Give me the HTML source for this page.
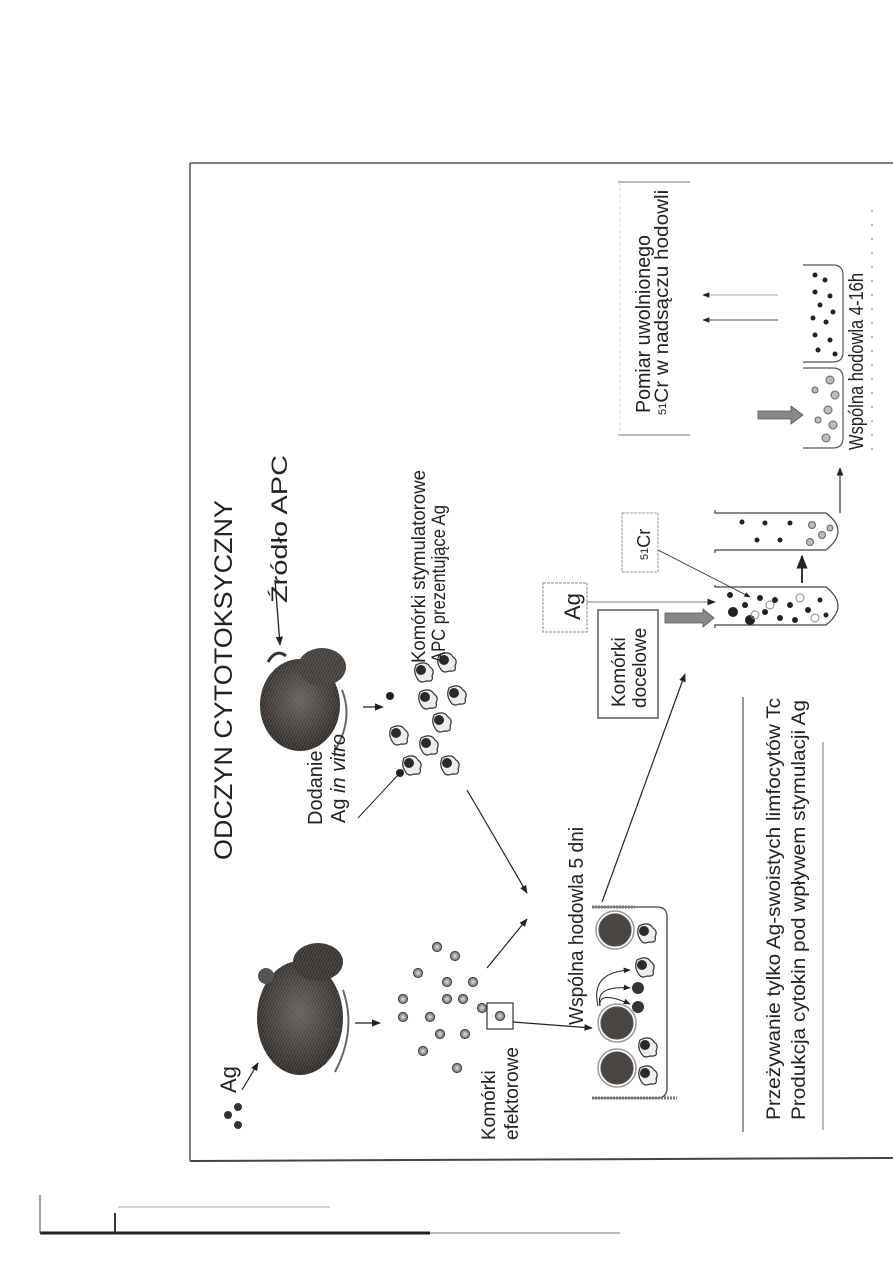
<!DOCTYPE html>
<html><head><meta charset="utf-8"><style>
html,body{margin:0;padding:0;background:#fff;}
svg{display:block;}
text{font-family:"Liberation Sans",sans-serif;fill:#222;}
</style></head><body>
<svg width="893" height="1263" viewBox="0 0 893 1263" xmlns="http://www.w3.org/2000/svg">
<defs>
<marker id="a" viewBox="0 0 10 10" refX="9" refY="5" markerWidth="7" markerHeight="7" orient="auto-start-reverse"><path d="M0,1 L10,5 L0,9 z" fill="#222"/></marker>
<radialGradient id="ms" cx="0.5" cy="0.45" r="0.6"><stop offset="0" stop-color="#6a6360"/><stop offset="0.7" stop-color="#3e3936"/><stop offset="1" stop-color="#2a2624"/></radialGradient>
<pattern id="fur" width="6" height="6" patternUnits="userSpaceOnUse"><path d="M0,6 L3,0 M3,6 L6,0" stroke="#888" stroke-width="0.6" opacity="0.5"/></pattern>
<g id="apc"><path d="M-8,-7 Q2,-12 6,-5 Q11,-2 8,4 Q10,10 2,9 Q-4,12 -7,6 Q-11,0 -8,-7z" fill="#eee" stroke="#333" stroke-width="1.2"/><circle cx="-3" cy="-2" r="5" fill="#2a2a2a"/></g>
<g id="ec"><circle r="4.5" fill="#999" stroke="#444" stroke-width="1.2"/><circle r="1.8" fill="#ccc"/></g>
</defs>

<line x1="190" y1="163" x2="893" y2="163" stroke="#555" stroke-width="1.5"/>
<line x1="190" y1="163" x2="190" y2="1161" stroke="#555" stroke-width="1.5"/>
<line x1="190" y1="1161" x2="893" y2="1158" stroke="#444" stroke-width="2"/>
<line x1="40" y1="1233" x2="430" y2="1233" stroke="#222" stroke-width="3"/>
<line x1="430" y1="1233" x2="620" y2="1233" stroke="#bbb" stroke-width="2"/>
<line x1="40" y1="1195" x2="40" y2="1233" stroke="#666" stroke-width="1.2"/>
<line x1="115" y1="1213" x2="115" y2="1233" stroke="#333" stroke-width="2"/>
<line x1="118" y1="1207" x2="330" y2="1207" stroke="#aaa" stroke-width="1"/>

<text transform="translate(232,860) rotate(-90)" font-size="25" textLength="360" lengthAdjust="spacingAndGlyphs">ODCZYN CYTOTOKSYCZNY</text>
<text transform="translate(287,603) rotate(-90)" font-size="22" textLength="148" lengthAdjust="spacingAndGlyphs">Źródło APC</text>
<line x1="275" y1="580" x2="280" y2="645" stroke="#222" stroke-width="1.3" marker-end="url(#a)"/>

<!-- mouse 2 -->
<g>
<ellipse cx="300" cy="705" rx="40" ry="46" fill="url(#ms)"/>
<ellipse cx="300" cy="705" rx="40" ry="46" fill="url(#fur)"/>
<ellipse cx="322" cy="667" rx="24" ry="19" fill="#46403c"/>
<ellipse cx="322" cy="667" rx="24" ry="19" fill="url(#fur)"/>
<path d="M268,662 q8,-14 18,-6" stroke="#333" stroke-width="3" fill="none"/>
<path d="M342,690 q12,30 -8,62" stroke="#666" stroke-width="2" fill="none"/>
</g>
<line x1="363" y1="707" x2="383" y2="707" stroke="#222" stroke-width="1.3" marker-end="url(#a)"/>

<text transform="translate(322,825) rotate(-90)" font-size="20">Dodanie</text>
<text transform="translate(345,823) rotate(-90)" font-size="20">Ag <tspan font-style="italic">in vitro</tspan></text>
<line x1="358" y1="818" x2="398" y2="775" stroke="#222" stroke-width="1"/>
<circle cx="390" cy="696" r="4" fill="#222"/>
<circle cx="400" cy="773" r="4" fill="#222"/>
<use href="#apc" x="399" y="735"/><use href="#apc" x="412" y="765"/><use href="#apc" x="424" y="672"/>
<use href="#apc" x="428" y="699"/><use href="#apc" x="429" y="745"/><use href="#apc" x="442" y="722"/>
<use href="#apc" x="447" y="662"/><use href="#apc" x="457" y="695"/><use href="#apc" x="450" y="765"/>
<text transform="translate(425,663) rotate(-90)" font-size="19" textLength="193" lengthAdjust="spacingAndGlyphs">Komórki stymulatorowe</text>
<text transform="translate(445,663) rotate(-90)" font-size="19" textLength="158" lengthAdjust="spacingAndGlyphs">APC prezentujące Ag</text>
<line x1="467" y1="790" x2="527" y2="893" stroke="#222" stroke-width="1.2" marker-end="url(#a)"/>

<!-- mouse 1 -->
<g>
<ellipse cx="300" cy="1018" rx="43" ry="57" fill="url(#ms)"/>
<ellipse cx="300" cy="1018" rx="43" ry="57" fill="url(#fur)"/>
<ellipse cx="318" cy="962" rx="25" ry="19" fill="#3a3532"/>
<ellipse cx="318" cy="962" rx="25" ry="19" fill="url(#fur)"/>
<circle cx="266" cy="976" r="8" fill="#555"/>
<path d="M343,990 q14,40 -8,82" stroke="#666" stroke-width="2" fill="none"/>
</g>
<text transform="translate(236,1093) rotate(-90)" font-size="22">Ag</text>
<circle cx="228" cy="1115" r="4" fill="#333"/><circle cx="238" cy="1107" r="4" fill="#333"/><circle cx="238" cy="1125" r="4" fill="#333"/>
<line x1="242" y1="1090" x2="258" y2="1063" stroke="#222" stroke-width="1.2" marker-end="url(#a)"/>
<line x1="355" y1="1023" x2="380" y2="1023" stroke="#222" stroke-width="1.3" marker-end="url(#a)"/>

<use href="#ec" x="403" y="999"/><use href="#ec" x="403" y="1017"/><use href="#ec" x="423" y="1051"/>
<use href="#ec" x="418" y="973"/><use href="#ec" x="437" y="947"/><use href="#ec" x="455" y="956"/>
<use href="#ec" x="430" y="1017"/><use href="#ec" x="447" y="999"/><use href="#ec" x="447" y="982"/>
<use href="#ec" x="440" y="1034"/><use href="#ec" x="463" y="999"/><use href="#ec" x="465" y="1034"/>
<use href="#ec" x="473" y="982"/><use href="#ec" x="482" y="1008"/><use href="#ec" x="457" y="1068"/>
<rect x="487" y="1003" width="26" height="26" fill="none" stroke="#333" stroke-width="1.2"/>
<use href="#ec" x="500" y="1016"/>
<text transform="translate(495,1140) rotate(-90)" font-size="19">Komórki</text>
<text transform="translate(518,1140) rotate(-90)" font-size="19">efektorowe</text>
<line x1="487" y1="968" x2="527" y2="919" stroke="#222" stroke-width="1.2" marker-end="url(#a)"/>
<line x1="513" y1="1022" x2="592" y2="1028" stroke="#222" stroke-width="1.2" marker-end="url(#a)"/>

<text transform="translate(583,1025) rotate(-90)" font-size="20" textLength="198" lengthAdjust="spacingAndGlyphs">Wspólna hodowla 5 dni</text>
<path d="M592,907 H657 Q667,907 667,917 V1088 Q667,1098 657,1098 H592" fill="none" stroke="#444" stroke-width="1.3"/>
<line x1="592" y1="907" x2="635" y2="907" stroke="#777" stroke-width="3" stroke-dasharray="2,1"/>
<line x1="592" y1="1098" x2="677" y2="1098" stroke="#777" stroke-width="3" stroke-dasharray="2,1"/>
<g stroke="#555" stroke-width="1.2" fill="#4a4442">
<circle cx="615" cy="930" r="16"/><circle cx="617" cy="1023" r="16"/><circle cx="617" cy="1068" r="16"/>
</g>
<g fill="none" stroke="#999" stroke-width="1.5"><circle cx="615" cy="930" r="19"/><circle cx="617" cy="1023" r="19"/><circle cx="617" cy="1068" r="19"/></g>
<use href="#apc" x="647" y="933"/><use href="#apc" x="645" y="967"/><use href="#apc" x="648" y="1047"/><use href="#apc" x="648" y="1075"/>
<circle cx="638" cy="988" r="6" fill="#333"/><circle cx="638" cy="1007" r="6" fill="#333"/>
<g fill="none" stroke="#222" stroke-width="1"><path d="M600,1006 Q598,990 630,1004" marker-end="url(#a)"/><path d="M600,1006 Q595,985 630,988" marker-end="url(#a)"/><path d="M598,1006 Q590,972 630,970" marker-end="url(#a)"/></g>
<line x1="602" y1="902" x2="685" y2="674" stroke="#222" stroke-width="1.2" marker-end="url(#a)"/>

<line x1="743" y1="697" x2="743" y2="1132" stroke="#555" stroke-width="1.2"/>
<line x1="823" y1="742" x2="823" y2="1130" stroke="#777" stroke-width="1"/>
<text transform="translate(780,1120) rotate(-90)" font-size="19" textLength="422" lengthAdjust="spacingAndGlyphs">Przeżywanie tylko Ag-swoistych limfocytów Tc</text>
<text transform="translate(805,1120) rotate(-90)" font-size="19" textLength="420" lengthAdjust="spacingAndGlyphs">Produkcja cytokin pod wpływem stymulacji Ag</text>

<rect x="598" y="610" width="60" height="108" fill="none" stroke="#333" stroke-width="1.2"/>
<text transform="translate(625,707) rotate(-90)" font-size="19">Komórki</text>
<text transform="translate(646,708) rotate(-90)" font-size="19">docelowe</text>
<rect x="543" y="583" width="44" height="49" fill="none" stroke="#888" stroke-width="1" stroke-dasharray="3,1"/>
<text transform="translate(580,620) rotate(-90)" font-size="22">Ag</text>
<line x1="587" y1="602" x2="715" y2="602" stroke="#999" stroke-width="1.2" marker-end="url(#a)"/>
<path d="M665,613 H703 V609 L714,618 L703,627 V623 H665 Z" fill="#888" stroke="#555" stroke-width="0.8"/>
<rect x="622" y="513" width="36" height="59" fill="none" stroke="#999" stroke-width="1" stroke-dasharray="3,1"/>
<text transform="translate(650,560) rotate(-90)" font-size="18"><tspan font-size="11" dy="-2">51</tspan><tspan dy="2">Cr</tspan></text>
<line x1="658" y1="550" x2="750" y2="597" stroke="#333" stroke-width="0.9" marker-end="url(#a)"/>

<path d="M715,585 V587 H826 Q850,606 826,625 H715 V628" fill="none" stroke="#444" stroke-width="1.2"/>
<g fill="#222"><circle cx="730" cy="595" r="3"/><circle cx="733" cy="612" r="5"/><circle cx="745" cy="605" r="3"/><circle cx="750" cy="620" r="5"/><circle cx="760" cy="598" r="3"/><circle cx="765" cy="612" r="3"/><circle cx="775" cy="600" r="3"/><circle cx="780" cy="618" r="3"/><circle cx="790" cy="605" r="3"/><circle cx="795" cy="620" r="3"/><circle cx="808" cy="610" r="3"/><circle cx="820" cy="600" r="2.5"/><circle cx="826" cy="615" r="2.5"/></g>
<g fill="none" stroke="#888"><circle cx="755" cy="615" r="4"/><circle cx="770" cy="605" r="4"/><circle cx="800" cy="598" r="4"/><circle cx="815" cy="618" r="4"/></g>
<line x1="802" y1="583" x2="802" y2="556" stroke="#333" stroke-width="2" marker-end="url(#a)"/>
<path d="M715,510 V513 H826 Q850,531 826,550 H715 V553" fill="none" stroke="#444" stroke-width="1.2"/>
<g fill="#222"><circle cx="742" cy="522" r="2.5"/><circle cx="765" cy="523" r="2.5"/><circle cx="790" cy="523" r="2.5"/><circle cx="757" cy="540" r="2.5"/><circle cx="780" cy="540" r="2.5"/></g>
<g fill="#bbb" stroke="#666"><circle cx="812" cy="525" r="3.5"/><circle cx="822" cy="535" r="3.5"/><circle cx="810" cy="542" r="3.5"/><circle cx="830" cy="528" r="3"/></g>
<line x1="840" y1="513" x2="840" y2="468" stroke="#333" stroke-width="1.2" marker-end="url(#a)"/>
<path d="M803,368 H833 Q843,368 843,378 V438 Q843,448 833,448 H803" fill="none" stroke="#555" stroke-width="1.2"/>
<g fill="#bbb" stroke="#666"><circle cx="830" cy="380" r="4"/><circle cx="835" cy="395" r="4"/><circle cx="828" cy="410" r="4"/><circle cx="833" cy="425" r="4"/><circle cx="826" cy="438" r="4"/><circle cx="815" cy="390" r="3"/><circle cx="818" cy="420" r="3"/></g>
<path d="M803,265 H833 Q843,265 843,275 V352 Q843,362 833,362 H803" fill="none" stroke="#555" stroke-width="1.2"/>
<g fill="#222"><circle cx="815" cy="275" r="2.5"/><circle cx="825" cy="280" r="2.5"/><circle cx="815" cy="292" r="2.5"/><circle cx="830" cy="296" r="2.5"/><circle cx="820" cy="305" r="2.5"/><circle cx="833" cy="312" r="2.5"/><circle cx="813" cy="318" r="2.5"/><circle cx="826" cy="322" r="2.5"/><circle cx="815" cy="335" r="2.5"/><circle cx="830" cy="340" r="2.5"/><circle cx="818" cy="350" r="2.5"/><circle cx="835" cy="354" r="2.5"/></g>
<path d="M758,411 H791 V406 L803,415 L791,424 V419 H758 Z" fill="#888" stroke="#555" stroke-width="0.8"/>
<text transform="translate(863,450) rotate(-90)" font-size="20" textLength="177" lengthAdjust="spacingAndGlyphs">Wspólna hodowla 4-16h</text>
<line x1="872" y1="210" x2="872" y2="450" stroke="#777" stroke-width="1" stroke-dasharray="2,12"/>
<line x1="778" y1="295" x2="703" y2="295" stroke="#aaa" stroke-width="1" marker-end="url(#a)"/>
<line x1="778" y1="320" x2="703" y2="320" stroke="#555" stroke-width="1" marker-end="url(#a)"/>

<line x1="618" y1="182" x2="690" y2="182" stroke="#777" stroke-width="1"/>
<line x1="618" y1="435" x2="690" y2="435" stroke="#777" stroke-width="1"/>
<line x1="620" y1="182" x2="620" y2="435" stroke="#ccc" stroke-width="1" stroke-dasharray="3,3"/>
<text transform="translate(650,413) rotate(-90)" font-size="20" textLength="178" lengthAdjust="spacingAndGlyphs">Pomiar uwolnionego</text>
<text transform="translate(668,415) rotate(-90)" font-size="19"><tspan font-size="11" dy="-2">51</tspan><tspan dy="2" textLength="213" lengthAdjust="spacingAndGlyphs">Cr w nadsączu hodowli</tspan></text>
</svg>
</body></html>
